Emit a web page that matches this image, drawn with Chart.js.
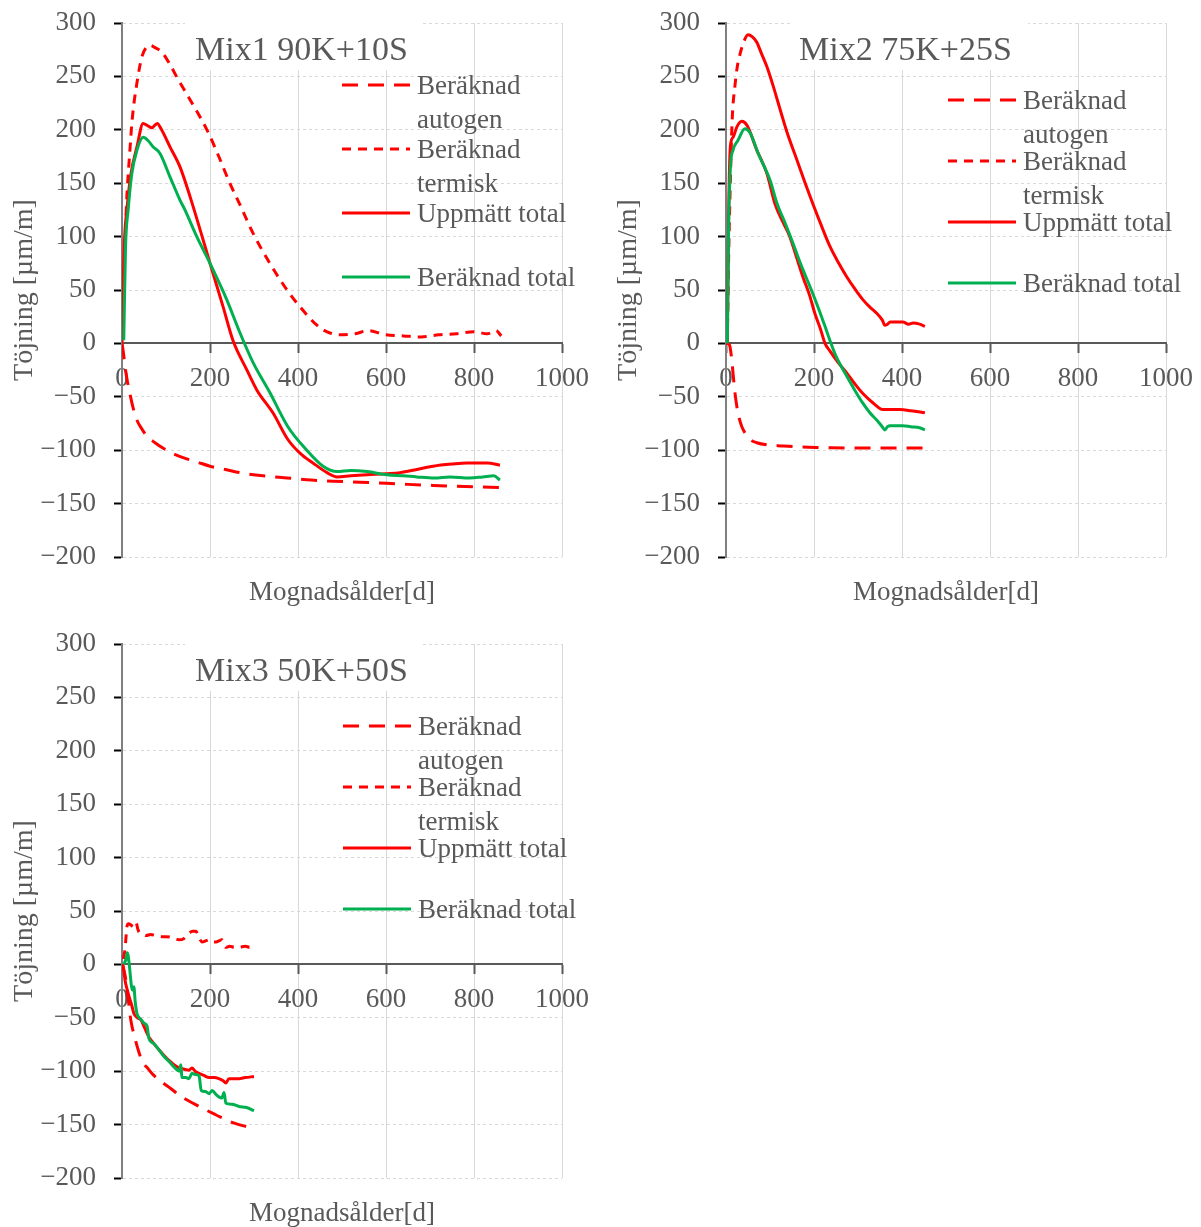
<!DOCTYPE html>
<html>
<head>
<meta charset="utf-8">
<script src="https://cdn.jsdelivr.net/npm/chart.js@4.4.1/dist/chart.umd.min.js"></script>
<style>
  body { margin: 0; background: #fff; }
  canvas { position: absolute; }
</style>
</head>
<body>
<canvas id="mix1" width="600" height="610" style="left:0;top:0"></canvas>
<canvas id="mix2" width="597" height="610" style="left:604px;top:0"></canvas>
<canvas id="mix3" width="600" height="606" style="left:0;top:621px"></canvas>
<script>
// series names, same for all three mixes
var seriesLabels = ['Beräknad autogen', 'Beräknad termisk', 'Uppmätt total', 'Beräknad total'];
var xTicks = [0, 200, 400, 600, 800, 1000];
var yTicks = [-200, -150, -100, -50, 0, 50, 100, 150, 200, 250, 300];

// Mix1 90K+10S
var mix1AutogenDays = [0, 3, 7, 12, 18, 25, 34, 45, 57, 75, 93, 115, 139, 170, 200, 235, 268, 320, 375, 430, 480, 540, 602, 650, 707, 780, 859];
var mix1Autogen = [0, -8, -22, -35, -47, -60, -72, -80, -87, -93, -98, -103, -107, -111, -115, -118, -121, -124, -126, -128, -129, -130, -131, -132, -133, -134, -135];
var mix1TermDays = [2, 5, 11, 17, 23, 34, 45, 55, 64, 75, 90, 108, 125, 155, 193, 220, 245, 268, 298, 336, 375, 405, 443, 465, 495, 530, 560, 600, 640, 680, 720, 760, 800, 830, 850, 862];
var mix1Term = [15, 70, 137, 175, 209, 244, 268, 277, 279, 277, 273, 262, 249, 228, 200, 175, 150, 130, 103, 75, 50, 34, 17, 11, 8, 9, 12, 8, 7, 6, 8, 9, 11, 9, 12, 7];
var mix1MeasDays = [0, 3, 6, 11, 20, 34, 48, 58, 68, 80, 90, 109, 132, 155, 180, 200, 230, 252, 284, 307, 343, 377, 405, 434, 466, 489, 520, 557, 600, 632, 670, 707, 750, 784, 830, 859];
var mix1Meas = [0, 60, 100, 125, 158, 184, 206, 204, 202, 206, 200, 184, 165, 137, 103, 75, 34, 3, -25, -44, -65, -90, -103, -112, -121, -125, -124, -123, -122, -121, -118, -115, -113, -112, -112, -114];
var mix1CalcDays = [4, 8, 14, 22, 34, 48, 59, 71, 86, 109, 132, 143, 170, 200, 238, 268, 298, 336, 377, 420, 457, 489, 520, 557, 602, 640, 670, 710, 745, 790, 820, 845, 859];
var mix1Calc = [3, 90, 125, 158, 181, 193, 190, 184, 178, 156, 134, 125, 100, 75, 41, 10, -18, -46, -78, -100, -115, -120, -119, -120, -123, -124, -125, -126, -125, -126, -125, -124, -128];

// Mix2 75K+25S
var mix2AutogenDays = [0, 5, 9, 13, 16, 20, 25, 30, 36, 45, 55, 70, 93, 130, 168, 220, 282, 350, 452];
var mix2Autogen = [0, 0, -3, -15, -28, -45, -60, -70, -78, -85, -90, -93, -95, -96, -97, -97.5, -98, -98, -98];
var mix2TermDays = [3, 6, 9, 14, 20, 26, 32, 40, 50, 60, 70, 80, 93, 108, 123, 140, 161, 180, 198, 217, 236, 255, 275, 293, 311, 327, 343, 355, 361, 367, 373, 385, 402, 415, 425, 440, 452];
var mix2Term = [0, 80, 137, 209, 240, 260, 271, 282, 289, 287, 282, 272, 259, 240, 219, 196, 172, 150, 130, 110, 91, 76, 62, 51, 41, 34, 28, 22, 17, 18, 20, 20, 20, 18, 19, 18, 16];
var mix2MeasDays = [3, 6, 10, 16, 25, 36, 48, 70, 93, 111, 130, 145, 160, 175, 190, 202, 215, 225, 236, 255, 275, 293, 311, 335, 357, 375, 395, 420, 452];
var mix2Meas = [0, 120, 185, 193, 203, 208, 204, 181, 159, 131, 113, 100, 81, 62, 45, 28, 13, 0, -7, -18, -28, -38, -47, -56, -62, -62, -62, -63, -65];
var mix2CalcDays = [3, 6, 10, 16, 27, 43, 55, 73, 100, 116, 135, 152, 170, 191, 210, 225, 236, 250, 275, 293, 311, 327, 343, 355, 361, 367, 373, 390, 402, 420, 440, 452];
var mix2Calc = [0, 110, 165, 181, 190, 201, 197, 178, 153, 131, 112, 94, 74, 53, 33, 16, 3, -12, -31, -44, -56, -65, -72, -78, -81, -78, -77, -77, -77, -78, -79, -81];

// Mix3 50K+50S
var mix3AutogenDays = [0, 4, 9, 14, 20, 30, 39, 45, 60, 70, 84, 110, 136, 175, 214, 250, 293];
var mix3Autogen = [0, -5, -15, -32, -52, -70, -83, -90, -98, -103, -108, -116, -124, -133, -141, -148, -153];
var mix3TermDays = [3, 7, 9, 11, 15, 20, 26, 32, 36, 39, 45, 55, 65, 77, 90, 100, 115, 130, 140, 152, 160, 168, 175, 182, 190, 198, 206, 214, 220, 227, 236, 245, 255, 266, 280, 290, 300];
var mix3Term = [5, 15, 25, 35, 38, 37, 35, 39, 33, 30, 29, 27, 28, 27, 26, 26, 25, 23, 24, 29, 31, 31, 25, 21, 22, 23, 21, 21, 22, 23, 16, 17, 16, 16, 17, 16, 18];
var mix3MeasDays = [2, 4, 7, 12, 16, 22, 27, 35, 43, 52, 61, 72, 84, 95, 107, 118, 130, 140, 152, 159, 166, 175, 186, 198, 210, 220, 230, 236, 243, 255, 266, 280, 300];
var mix3Meas = [0, -5, -15, -24, -30, -38, -46, -50, -52, -60, -68, -74, -80, -85, -90, -94, -97, -98, -99, -97, -100, -102, -104, -106, -106, -107, -109, -111, -107, -107, -107, -106, -105];
var mix3CalcDays = [4, 9, 12, 14, 17, 20, 23, 27, 30, 34, 42, 50, 57, 61, 72, 84, 95, 107, 118, 130, 134, 136, 145, 152, 159, 166, 175, 180, 190, 198, 205, 214, 220, 227, 232, 236, 250, 266, 283, 300];
var mix3Calc = [0, 5, 11, 8, -2, -15, -24, -21, -35, -46, -51, -55, -58, -69, -74, -80, -86, -91, -96, -100, -94, -106, -106, -107, -102, -103, -104, -118, -119, -121, -118, -122, -124, -125, -120, -130, -131, -133, -134, -137];

var textColor = '#595959';
var fontFamily = '"Liberation Serif", serif';
var lineStyles = [
	{ color: '#ff0000', dash: [16, 10] },
	{ color: '#ff0000', dash: [9, 7] },
	{ color: '#ff0000', dash: [] },
	{ color: '#00b050', dash: [] }
];

function toPoints(days, values) {
	return days.map(function(d, i) { return { x: d, y: values[i] }; });
}

function plainNumber(v) {
	return String(v).replace('-', '\u2212');
}

function wrapLines(ctx, text, maxWidth) {
	var words = text.split(' ');
	var lines = [];
	var line = '';
	words.forEach(function(w) {
		var test = line ? line + ' ' + w : w;
		if (line && ctx.measureText(test).width > maxWidth) {
			lines.push(line);
			line = w;
		} else {
			line = test;
		}
	});
	lines.push(line);
	return lines;
}

// header box, legend and x-axis title drawn on the canvas
var panelDecor = {
	id: 'panelDecor',
	beforeDatasetsDraw: function(chart, args, opts) {
		var ctx = chart.ctx;
		var area = chart.chartArea;
		ctx.save();
		ctx.fillStyle = '#ffffff';
		ctx.fillRect(opts.boxLeft, area.top - 2, opts.boxWidth, 49);
		ctx.fillStyle = textColor;
		ctx.font = '34px ' + fontFamily;
		ctx.textBaseline = 'alphabetic';
		ctx.fillText(opts.title, 195, 60);
		ctx.restore();
	},
	afterDraw: function(chart, args, opts) {
		var ctx = chart.ctx;
		var area = chart.chartArea;
		ctx.save();
		ctx.font = '27px ' + fontFamily;
		ctx.fillStyle = textColor;
		ctx.textBaseline = 'alphabetic';
		chart.data.datasets.forEach(function(ds, i) {
			var y = opts.legendTop + i * opts.legendStep;
			ctx.strokeStyle = ds.borderColor;
			ctx.lineWidth = 3;
			ctx.setLineDash(ds.borderDash);
			ctx.beginPath();
			ctx.moveTo(opts.sampleLeft, y);
			ctx.lineTo(opts.sampleLeft + 68, y);
			ctx.stroke();
			wrapLines(ctx, ds.label, 180).forEach(function(line, k) {
				ctx.fillText(line, opts.sampleLeft + 75, y + 9 + k * 34);
			});
		});
		ctx.setLineDash([]);
		ctx.textAlign = 'center';
		ctx.fillText('Mognadsålder[d]', (area.left + area.right) / 2, 600);
		ctx.restore();
	}
};

function makeChart(id, title, series, decor, padRight, padBottom, termSolidFrom) {
	var datasets = series.map(function(pts, i) {
		var ds = {
			label: seriesLabels[i],
			data: pts,
			borderColor: lineStyles[i].color,
			borderDash: lineStyles[i].dash,
			borderWidth: 3,
			pointRadius: 0,
			cubicInterpolationMode: 'monotone',
			fill: false,
			order: 4 - i
		};
		if (i === 1 && termSolidFrom) {
			// dense measured points render nearly solid after the peak
			ds.segment = {
				borderDash: function(c) { return c.p0.parsed.x >= termSolidFrom ? [] : undefined; }
			};
		}
		return ds;
	});
	decor.title = title;
	return new Chart(document.getElementById(id), {
		type: 'line',
		data: { datasets: datasets },
		plugins: [panelDecor],
		options: {
			responsive: false,
			animation: false,
			events: [],
			layout: { padding: { left: 0, right: padRight, top: 23, bottom: padBottom } },
			plugins: {
				legend: { display: false },
				tooltip: { enabled: false },
				panelDecor: decor
			},
			scales: {
				x: {
					type: 'linear',
					position: { y: 0 },
					min: xTicks[0],
					max: xTicks[xTicks.length - 1],
					afterBuildTicks: function(s) { s.ticks = xTicks.map(function(v) { return { value: v }; }); },
					afterFit: function(s) { s.paddingLeft = 0; s.paddingRight = 0; },
					ticks: { color: textColor, font: { family: fontFamily, size: 27 }, padding: 10, maxRotation: 0, callback: plainNumber },
					grid: { color: '#d9d9d9', lineWidth: 1, tickColor: '#595959', tickLength: 9, tickWidth: 2 },
					border: { color: '#595959', width: 2 }
				},
				y: {
					type: 'linear',
					position: 'left',
					min: yTicks[0],
					max: yTicks[yTicks.length - 1],
					afterBuildTicks: function(s) { s.ticks = yTicks.map(function(v) { return { value: v }; }); },
					afterFit: function(s) { s.width = 122; s.paddingTop = 0; s.paddingBottom = 0; },
					ticks: { color: textColor, font: { family: fontFamily, size: 27 }, padding: 18, callback: plainNumber },
					grid: { color: '#d9d9d9', lineWidth: 1, tickColor: '#000000', tickLength: 8, tickWidth: 2, tickBorderDash: [] },
					border: { color: '#7f7f7f', width: 2, dash: [3, 3] },
					title: { display: true, text: 'Töjning [µm/m]', color: textColor, font: { family: fontFamily, size: 28 }, padding: { top: 8, bottom: 0 } }
				}
			}
		}
	});
}

makeChart('mix1', 'Mix1 90K+10S', [
	toPoints(mix1AutogenDays, mix1Autogen),
	toPoints(mix1TermDays, mix1Term),
	toPoints(mix1MeasDays, mix1Meas),
	toPoints(mix1CalcDays, mix1Calc)
], { boxLeft: 185, boxWidth: 238, sampleLeft: 342, legendTop: 85, legendStep: 64 }, 38, 53, null);

makeChart('mix2', 'Mix2 75K+25S', [
	toPoints(mix2AutogenDays, mix2Autogen),
	toPoints(mix2TermDays, mix2Term),
	toPoints(mix2MeasDays, mix2Meas),
	toPoints(mix2CalcDays, mix2Calc)
], { boxLeft: 186, boxWidth: 238, sampleLeft: 344, legendTop: 100, legendStep: 61 }, 35, 53, 45);

makeChart('mix3', 'Mix3 50K+50S', [
	toPoints(mix3AutogenDays, mix3Autogen),
	toPoints(mix3TermDays, mix3Term),
	toPoints(mix3MeasDays, mix3Meas),
	toPoints(mix3CalcDays, mix3Calc)
], { boxLeft: 185, boxWidth: 238, sampleLeft: 343, legendTop: 105, legendStep: 61 }, 38, 49, null);
</script>
</body>
</html>
